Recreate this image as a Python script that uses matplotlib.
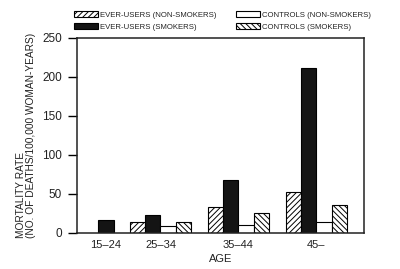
import matplotlib
matplotlib.use("Agg")
import matplotlib.pyplot as plt
import numpy as np

# data
ages = ["15–24", "25–34", "35–44", "45–"]
ever_non_smokers = [0, 14, 33, 53]
ever_smokers = [16, 23, 68, 212]
controls_non_smokers = [0, 9, 10, 14]
controls_smokers = [0, 14, 26, 36]

series = [
    ("EVER-USERS (NON-SMOKERS)", ever_non_smokers, "white", "//////"),
    ("EVER-USERS (SMOKERS)", ever_smokers, "#141414", None),
    ("CONTROLS (NON-SMOKERS)", controls_non_smokers, "white", None),
    ("CONTROLS (SMOKERS)", controls_smokers, "white", "\\\\\\\\\\\\"),
]

font = ["Liberation Sans Narrow", "Liberation Sans", "DejaVu Sans"]
plt.rcParams["font.family"] = font
plt.rcParams["hatch.linewidth"] = 0.7
txt = "#222222"

fig = plt.figure(figsize=(4.0, 2.69), dpi=100)
ax = fig.add_axes([0.1925, 0.134, 0.7175, 0.725])

# the first age group only has one bar, drawn nearer the axis
centers = np.array([0.3, 1.0, 2.0, 3.0])
width = 0.197
offsets = (np.arange(4) - 1.5) * width

handles = []
for i, (label, vals, color, hatch) in enumerate(series):
    for g, v in enumerate(vals):
        if v == 0:
            continue
        x = centers[g] if g == 0 else centers[g] + offsets[i]
        ax.bar(x, v, width, color=color, edgecolor="black", hatch=hatch,
               linewidth=0.8)
    handles.append(matplotlib.patches.Patch(facecolor=color, edgecolor="black",
                                            hatch=hatch, linewidth=0.8, label=label))

ax.set_xlim(-0.07, 3.61)
ax.set_ylim(0, 250)
ax.set_yticks([0, 50, 100, 150, 200, 250])
ax.set_xticks(centers)
ax.set_xticklabels(ages)
ax.tick_params(axis="x", length=0, pad=5, labelsize=8, labelcolor=txt)
ax.tick_params(axis="y", length=6.5, width=1, pad=4.5, labelsize=8.5, labelcolor=txt)
for s in ax.spines.values():
    s.set_linewidth(1.1)
    s.set_color("#222222")

ax.set_xlabel("AGE", fontsize=8, color=txt, labelpad=3)
ax.set_ylabel("MORTALITY RATE\n(NO. OF DEATHS/100,000 WOMAN-YEARS)",
              fontsize=7.3, color=txt, multialignment="left", linespacing=1.0,
              labelpad=4)

fig.legend(handles=handles, ncol=2, loc="upper left",
           bbox_to_anchor=(0.185, 0.96), frameon=False, fontsize=5.6,
           handlelength=3.1, handleheight=0.9, handletextpad=0.3,
           columnspacing=2.4, borderpad=0, borderaxespad=0, labelspacing=0.55,
           labelcolor=txt)

fig.savefig("out.png", dpi=100)
